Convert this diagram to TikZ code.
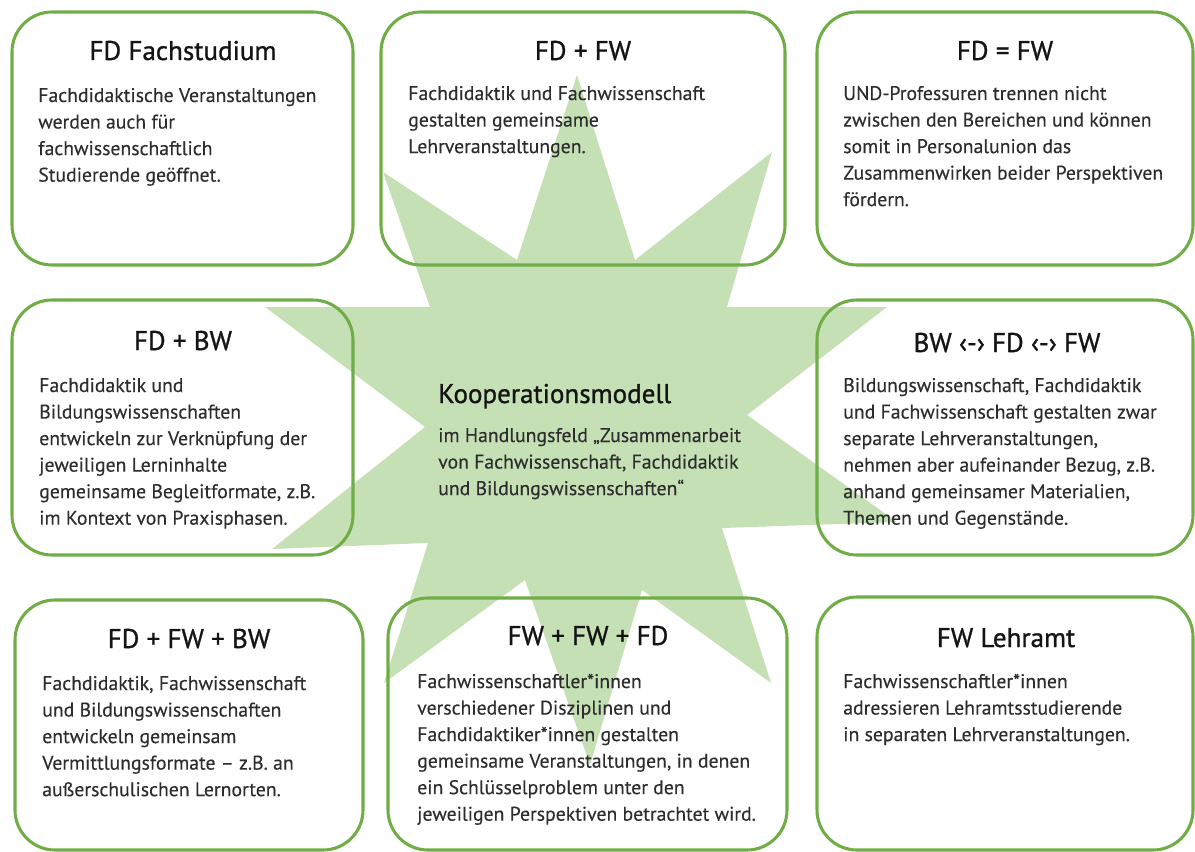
\documentclass[tikz,border=0pt]{standalone}
\usepackage{fontspec}
\setmainfont{PT Sans}
\newfontfamily\ttlfont[FakeBold=1.0]{PT Sans}
\newfontfamily\bdyfont[FakeBold=0.25]{PT Sans}
\definecolor{boxgreen}{RGB}{112,173,71}
\definecolor{stargreen}{RGB}{197,224,180}
\definecolor{titlecol}{RGB}{20,20,20}
\definecolor{bodycol}{RGB}{45,45,45}
\newcommand{\bodytext}[1]{\parbox[t]{420pt}{\raggedright #1}}
\begin{document}
\begin{tikzpicture}[x=0.75pt,y=-0.75pt,
  box/.style={draw=boxgreen, line width=2.3pt, rounded corners=30pt, rectangle, inner sep=0pt},
  ttl/.style={anchor=base, inner sep=0pt, text=titlecol, font=\ttlfont\fontsize{20.3}{24}\selectfont},
  bdy/.style={anchor=base west, inner sep=0pt, text=bodycol, font=\bdyfont\fontsize{14.8}{19.9}\selectfont}]
\useasboundingbox (0,0) rectangle (1195,852);
% star
\fill[stargreen] (577,75) -- (635,260) -- (772,152) -- (727,307) -- (887,307) -- (747,415)
  -- (897,522) -- (722,528) -- (771,683) -- (642,590) -- (590,765) -- (525,580)
  -- (384,683) -- (428,543) -- (272,549) -- (425,427) -- (265,307) -- (430,307)
  -- (383,172) -- (517,260) -- cycle;
% boxes
\node[box, minimum width=341*0.75pt, minimum height=253*0.75pt] (A) at (182.5,138.5) {};
\node[box, minimum width=404*0.75pt, minimum height=253*0.75pt] (B) at (583,138.5) {};
\node[box, minimum width=376*0.75pt, minimum height=253*0.75pt] (C) at (1005,138.5) {};
\node[box, minimum width=341*0.75pt, minimum height=255*0.75pt] (D) at (182.5,427.5) {};
\node[box, minimum width=376*0.75pt, minimum height=255*0.75pt] (E) at (1005,427.5) {};
\node[box, minimum width=348*0.75pt, minimum height=250*0.75pt] (F) at (189,725) {};
\node[box, minimum width=399*0.75pt, minimum height=252*0.75pt] (G) at (587.5,724) {};
\node[box, minimum width=376*0.75pt, minimum height=253*0.75pt] (H) at (1005,723.5) {};
% titles
\node[ttl] (At) at (183,60) {FD Fachstudium};
\node[ttl] (Bt) at (583,60) {FD + FW};
\node[ttl] (Ct) at (1005,60) {FD = FW};
\node[ttl] (Dt) at (183,350) {FD + BW};
\node[ttl] (Et) at (1007,352) {BW ‹-› FD ‹-› FW};
\node[ttl] (Ft) at (189,648) {FD + FW + BW};
\node[ttl] (Gt) at (588,645) {FW + FW + FD};
\node[ttl] (Ht) at (1006,647) {FW Lehramt};
\node[ttl, anchor=base west] (Kt) at (438,403) {Kooperationsmodell};
% bodies
\node[bdy] (Ab) at (38,102) {\bodytext{Fachdidaktische Veranstaltungen\\werden auch für\\fachwissenschaftlich\\Studierende geöffnet.}};
\node[bdy] (Bb) at (408,100) {\bodytext{Fachdidaktik und Fachwissenschaft\\gestalten gemeinsame\\Lehrveranstaltungen.}};
\node[bdy] (Cb) at (843,100) {\bodytext{UND-Professuren trennen nicht\\zwischen den Bereichen und können\\somit in Personalunion das\\Zusammenwirken beider Perspektiven\\fördern.}};
\node[bdy] (Db) at (39,392) {\bodytext{Fachdidaktik und\\Bildungswissenschaften\\entwickeln zur Verknüpfung der\\jeweiligen Lerninhalte\\gemeinsame Begleitformate, z.B.\\im Kontext von Praxisphasen.}};
\node[bdy] (Eb) at (843,392) {\bodytext{Bildungswissenschaft, Fachdidaktik\\und Fachwissenschaft gestalten zwar\\separate Lehrveranstaltungen,\\nehmen aber aufeinander Bezug, z.B.\\anhand gemeinsamer Materialien,\\Themen und Gegenstände.}};
\node[bdy] (Fb) at (42,690) {\bodytext{Fachdidaktik, Fachwissenschaft\\und Bildungswissenschaften\\entwickeln gemeinsam\\Vermittlungsformate – z.B. an\\außerschulischen Lernorten.}};
\node[bdy] (Gb) at (417,688) {\bodytext{Fachwissenschaftler*innen\\verschiedener Disziplinen und\\Fachdidaktiker*innen gestalten\\gemeinsame Veranstaltungen, in denen\\ein Schlüsselproblem unter den\\jeweiligen Perspektiven betrachtet wird.}};
\node[bdy] (Hb) at (843,688) {\bodytext{Fachwissenschaftler*innen\\adressieren Lehramtsstudierende\\in separaten Lehrveranstaltungen.}};
\node[bdy] (Kb) at (438,442) {\bodytext{im Handlungsfeld „Zusammenarbeit\\von Fachwissenschaft, Fachdidaktik\\und Bildungswissenschaften“}};
\end{tikzpicture}
\end{document}
